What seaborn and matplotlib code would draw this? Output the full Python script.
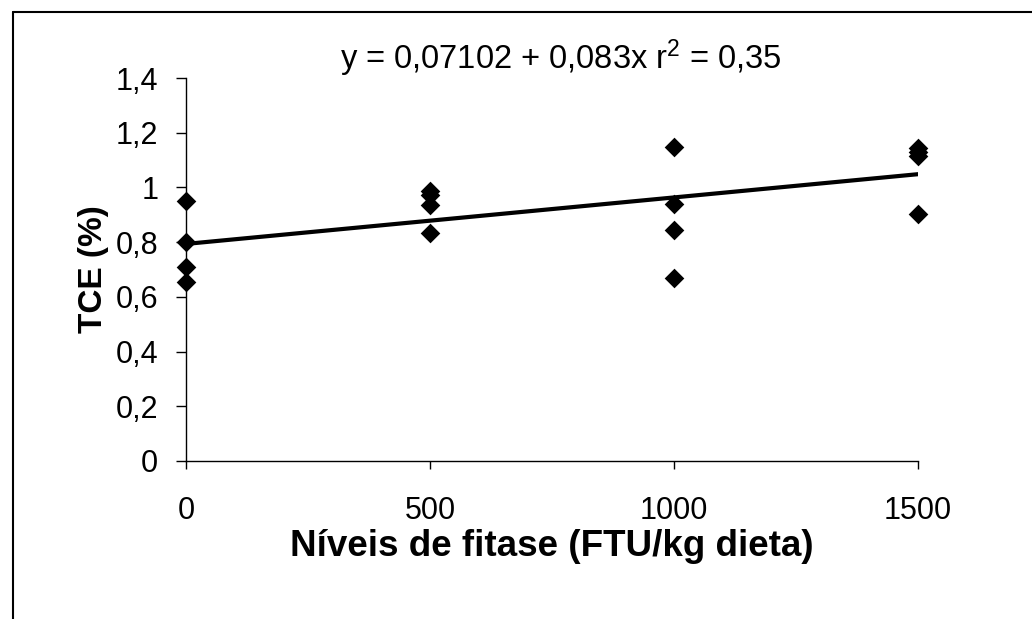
import matplotlib

matplotlib.use("Agg")
import matplotlib.pyplot as plt
import pandas as pd
import seaborn as sns
from matplotlib.lines import Line2D

# Data
fitase_levels = [0, 0, 0, 0,
                 500, 500, 500, 500,
                 1000, 1000, 1000, 1000,
                 1500, 1500, 1500, 1500]
tce_values = [0.95, 0.80, 0.71, 0.655,
              0.988, 0.972, 0.936, 0.834,
              1.147, 0.939, 0.844, 0.668,
              1.145, 1.13, 1.115, 0.902]

x_ticks = [0, 500, 1000, 1500]
y_ticks = [0, 0.2, 0.4, 0.6, 0.8, 1.0, 1.2, 1.4]
y_tick_labels = ["0", "0,2", "0,4", "0,6", "0,8", "1", "1,2", "1,4"]

equation_text = "y = 0,07102 + 0,083x r$^2$ = 0,35"
x_label = "Níveis de fitase (FTU/kg dieta)"
y_label = "TCE (%)"


def main():
    sns.set_style("white")
    plt.rcParams["font.family"] = ["Liberation Sans", "DejaVu Sans"]
    plt.rcParams["mathtext.fontset"] = "custom"
    plt.rcParams["mathtext.rm"] = "Liberation Sans"
    plt.rcParams["mathtext.it"] = "Liberation Sans"
    for key in ["text.color", "axes.labelcolor", "xtick.color", "ytick.color"]:
        plt.rcParams[key] = "black"

    df = pd.DataFrame({"fitase": fitase_levels, "tce": tce_values})

    fig = plt.figure(figsize=(10.32, 6.19), dpi=100)
    ax = fig.add_axes([186 / 1032, 1 - 461 / 619, (918 - 186) / 1032, (461 - 78) / 619])

    sns.regplot(
        data=df,
        x="fitase",
        y="tce",
        ci=None,
        truncate=True,
        marker="D",
        scatter_kws={"s": 100, "color": "black", "alpha": 1, "linewidths": 0, "zorder": 3},
        line_kws={"color": "black", "linewidth": 3, "zorder": 2},
        ax=ax,
    )

    ax.set_xlim(0, 1500)
    ax.set_ylim(0, 1.4)
    ax.set_xticks(x_ticks)
    ax.set_xticklabels([str(t) for t in x_ticks])
    ax.set_yticks(y_ticks)
    ax.set_yticklabels(y_tick_labels)
    ax.tick_params(axis="y", direction="out", length=7, width=1, pad=13, labelsize=22, left=True)
    ax.tick_params(axis="x", direction="out", length=6, width=1, pad=19, labelsize=22, bottom=True)
    for c in ax.collections:
        c.set_clip_on(False)

    for side in ["top", "right"]:
        ax.spines[side].set_visible(False)
    for side in ["left", "bottom"]:
        ax.spines[side].set_color("black")
        ax.spines[side].set_linewidth(1)

    ax.set_xlabel(x_label, fontsize=26.5, fontweight="bold", labelpad=2)
    ax.set_ylabel(y_label, fontsize=24, fontweight="bold", labelpad=5)

    fig.text(561 / 1032, 1 - 58 / 619, equation_text, fontsize=23.5, ha="center", va="center")

    # outer chart-area border (top and left edges visible in the reference)
    fig.add_artist(Line2D([13 / 1032, 1.0], [1 - 12 / 619, 1 - 12 / 619], color="black", linewidth=1.5))
    fig.add_artist(Line2D([13 / 1032, 13 / 1032], [0.0, 1 - 12 / 619], color="black", linewidth=1.5))

    fig.savefig("out.png", dpi=100)
    plt.close(fig)


if __name__ == "__main__":
    main()
